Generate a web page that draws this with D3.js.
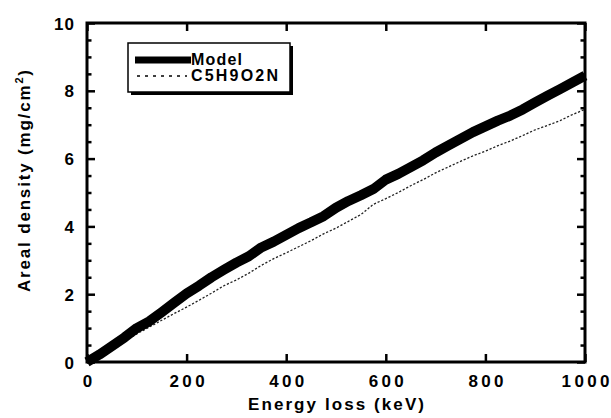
<!DOCTYPE html>
<html>
<head>
<meta charset="utf-8">
<script src="https://cdn.jsdelivr.net/npm/d3@7"></script>
<style>
  body { margin: 0; background: #fff; }
  svg { display: block; font-family: "Liberation Sans", Arial, Helvetica, sans-serif; font-weight: bold; }
</style>
</head>
<body>
<svg width="611" height="418"></svg>
<script>
// energy loss (keV)
var energy = [0, 25, 50, 75, 100, 125, 150, 175, 200, 225, 250, 275, 300, 325, 350, 375, 400,
  425, 450, 475, 500, 525, 550, 575, 600, 625, 650, 675, 700, 725, 750, 775, 800,
  825, 850, 875, 900, 925, 950, 975, 1000];
// areal density (mg/cm2), model
var model = [0, 0.22, 0.47, 0.72, 1.0, 1.2, 1.47, 1.75, 2.02, 2.25, 2.5, 2.72, 2.93, 3.12, 3.38, 3.55, 3.75,
  3.95, 4.12, 4.3, 4.55, 4.75, 4.92, 5.1, 5.38, 5.55, 5.75, 5.95, 6.18, 6.38, 6.58, 6.78, 6.95,
  7.12, 7.27, 7.45, 7.66, 7.86, 8.05, 8.25, 8.45];
// areal density (mg/cm2), C5H9O2N
var c5h9o2n = [0, 0.2, 0.41, 0.62, 0.83, 1.03, 1.23, 1.43, 1.62, 1.82, 2.03, 2.25, 2.42, 2.62, 2.85, 3.05, 3.22,
  3.4, 3.58, 3.78, 3.95, 4.15, 4.35, 4.65, 4.82, 5.0, 5.2, 5.38, 5.58, 5.75, 5.92, 6.08, 6.22,
  6.38, 6.52, 6.68, 6.85, 6.98, 7.12, 7.3, 7.45];

var xTicks = [0, 200, 400, 600, 800, 1000];
var yTicks = [0, 2, 4, 6, 8, 10];
var yMinor = d3.range(0, 10.01, 0.5).filter(function(v) { return v % 2 != 0; });
var legendNames = ["Model", "C5H9O2N"];

var svg = d3.select("svg");
var width = +svg.attr("width");
var height = +svg.attr("height");
var padding = {top: 23, right: 26, bottom: 56, left: 87};
var cw = width - padding.left - padding.right;
var ch = height - padding.top - padding.bottom;

var canvas = svg.append("g")
  .attr("transform", "translate(" + padding.left + "," + padding.top + ")");

var x = d3.scaleLinear().domain([0, 1000]).range([0, cw]);
var y = d3.scaleLinear().domain([0, 10]).range([ch, 0]);

function digitsLen(t) {
  var n = String(t).length;
  return n * 9.4 + (n - 1) * 3.4;
}

// axes, ticks pointing inwards
var gB = canvas.append("g").attr("transform", "translate(0," + ch + ")")
  .call(d3.axisBottom(x).tickValues(xTicks).tickSize(-8).tickPadding(13).tickFormat(d3.format("d")));
var gT = canvas.append("g")
  .call(d3.axisTop(x).tickValues(xTicks).tickSize(-8).tickFormat(""));
var gL = canvas.append("g")
  .call(d3.axisLeft(y).tickValues(yTicks).tickSize(-8).tickPadding(13).tickFormat(d3.format("d")));
var gLm = canvas.append("g")
  .call(d3.axisLeft(y).tickValues(yMinor).tickSize(-4.5).tickFormat(""));
var gR = canvas.append("g").attr("transform", "translate(" + cw + ",0)")
  .call(d3.axisRight(y).tickValues(yTicks).tickSize(-8).tickFormat(""));
var gRm = canvas.append("g").attr("transform", "translate(" + cw + ",0)")
  .call(d3.axisRight(y).tickValues(yMinor).tickSize(-4.5).tickFormat(""));

[gB, gT, gL, gLm, gR, gRm].forEach(function(g) {
  g.select(".domain").remove();
  g.selectAll(".tick line").attr("stroke", "#000").attr("stroke-width", 2.5);
  g.selectAll(".tick text")
    .attr("fill", "#000")
    .style("font-size", "17px")
    .style("font-family", "'Liberation Sans', Arial, sans-serif")
    .style("font-weight", "bold");
});
gB.selectAll(".tick text").attr("textLength", function(d) { return digitsLen(d); })
  .attr("lengthAdjust", "spacing");
gL.selectAll(".tick text").attr("textLength", function(d) { return d >= 10 ? 20 : null; })
  .attr("lengthAdjust", "spacing").attr("dy", "0.36em");

// frame
canvas.append("rect")
  .attr("x", 0).attr("y", 0).attr("width", cw).attr("height", ch)
  .attr("fill", "none").attr("stroke", "#000").attr("stroke-width", 3);

// series
var line = d3.line()
  .x(function(d, i) { return x(energy[i]); })
  .y(function(d) { return y(d); });

canvas.append("path")
  .datum(c5h9o2n)
  .attr("d", line)
  .attr("fill", "none")
  .attr("stroke", "#222")
  .attr("stroke-width", 1.3)
  .attr("stroke-dasharray", "2.2,1.8");

canvas.append("path")
  .datum(model)
  .attr("d", line)
  .attr("fill", "none")
  .attr("stroke", "#000")
  .attr("stroke-width", 10)
  .attr("stroke-linejoin", "round");

// legend
var lg = svg.append("g").attr("transform", "translate(128,43)");
lg.append("rect").attr("x", 3).attr("y", 3).attr("width", 162).attr("height", 49).attr("fill", "#000");
lg.append("rect").attr("x", 0).attr("y", 0).attr("width", 162).attr("height", 49)
  .attr("fill", "#fff").attr("stroke", "#000").attr("stroke-width", 1.5);
lg.append("line").attr("x1", 7).attr("x2", 63).attr("y1", 17).attr("y2", 17)
  .attr("stroke", "#000").attr("stroke-width", 7);
lg.append("line").attr("x1", 9).attr("x2", 59).attr("y1", 33).attr("y2", 33)
  .attr("stroke", "#000").attr("stroke-width", 1.5).attr("stroke-dasharray", "3,5");
lg.selectAll("text.leg")
  .data(legendNames)
  .enter()
  .append("text")
  .attr("class", "leg")
  .attr("x", 63)
  .attr("y", function(d, i) { return 22 + i * 15.5; })
  .attr("textLength", function(d, i) { return i == 0 ? 51 : 87; })
  .attr("lengthAdjust", "spacing")
  .style("font-size", "16px")
  .text(function(d) { return d; });

// axis titles
svg.append("text")
  .attr("x", padding.left + cw / 2)
  .attr("y", 410)
  .attr("text-anchor", "middle")
  .attr("textLength", 176)
  .attr("lengthAdjust", "spacing")
  .style("font-size", "17px")
  .text("Energy loss (keV)");

var yt = svg.append("text")
  .attr("transform", "translate(30,181) rotate(-90)")
  .attr("text-anchor", "middle")
  .attr("textLength", 222)
  .attr("lengthAdjust", "spacing")
  .style("font-size", "17px");
yt.append("tspan").text("Areal density (mg/cm");
yt.append("tspan").attr("dy", -7).style("font-size", "11px").text("2");
yt.append("tspan").attr("dy", 7).text(")");
</script>
</body>
</html>
